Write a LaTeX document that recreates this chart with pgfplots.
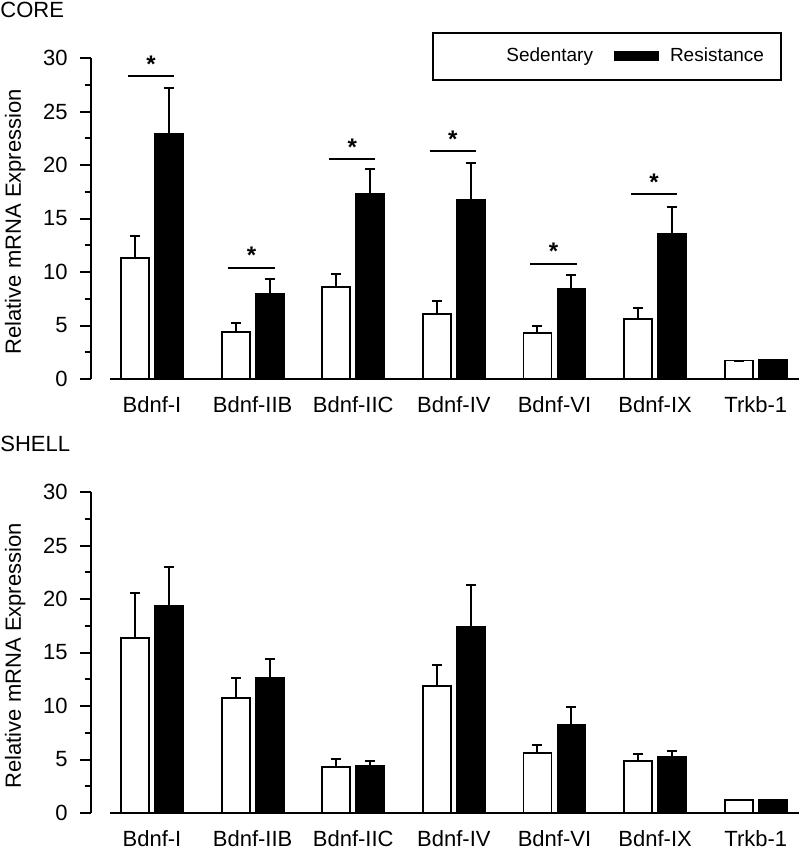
\documentclass[border=0pt]{standalone}
\usepackage{fontspec}
\setmainfont{Liberation Sans}
\usepackage{pgfplots}
\usepackage{pgfplotstable}
\pgfplotsset{compat=1.18}

\pgfplotstableread{
x sed sede res rese
0 11.34 2.00 22.87 4.30
1 4.36 0.85 8.00 1.30
2 8.57 1.20 17.26 2.35
3 6.10 1.20 16.73 3.50
4 4.33 0.65 8.38 1.30
5 5.58 1.06 13.52 2.60
6 1.72 0.00 1.78 0.00
}\coretable

\pgfplotstableread{
x sed sede res rese
0 16.33 4.20 19.35 3.60
1 10.78 1.80 12.65 1.70
2 4.30 0.75 4.42 0.40
3 11.90 1.96 17.38 3.96
4 5.64 0.72 8.19 1.74
5 4.83 0.65 5.20 0.60
6 1.19 0.00 1.25 0.00
}\shelltable

\tikzset{sigstar/.style={anchor=base, inner sep=0pt, yshift=2bp, font=\fontsize{12bp}{14bp}\bfseries}}

\pgfplotsset{
  myaxis/.style={
    scale only axis, width=354bp, height=160.5bp,
    xmin=-0.606, xmax=6.43, ymin=0, ymax=30,
    ybar=3bp, bar width=14bp,
    axis y line=left, axis x line=bottom,
    axis line style={-, line width=1bp},
    x axis line style={draw=none},
    ytick={0,5,...,30}, minor y tick num=1,
    tick align=outside, major tick length=5.5bp, minor tick length=3bp,
    tick style={line width=1bp, black},
    xtick={0,...,6},
    xticklabels={Bdnf-I,Bdnf-IIB,Bdnf-IIC,Bdnf-IV,Bdnf-VI,Bdnf-IX,Trkb-1},
    xtick style={draw=none},
    /pgf/number format/assume math mode=true,
    tick label style={font=\fontsize{11bp}{13bp}\selectfont},
    yticklabel style={inner sep=0pt, xshift=-6bp},
    xticklabel style={inner sep=0pt, yshift=-3bp},
    ylabel={Relative mRNA Expression},
    ylabel style={at={(axis description cs:-0.107,0.49)}, anchor=center, font=\fontsize{11bp}{13bp}\selectfont},
    clip=false,
  },
  sedbar/.style={fill=white, draw=black, line width=0.9bp,
    legend image code/.code={\fill[##1, draw=none] (0bp,-2.5bp) rectangle (22.5bp,2.5bp);},
    error bars/.cd, y dir=plus, y explicit,
    error bar style={line width=1bp, black},
    error mark options={rotate=90, mark size=2.5bp, line width=1bp, black}},
  resbar/.style={fill=black, draw=black, line width=0.9bp,
    legend image code/.code={\fill[##1, draw=none] (0bp,-2.5bp) rectangle (22.5bp,2.5bp);},
    error bars/.cd, y dir=plus, y explicit,
    error bar style={line width=1bp, black},
    error mark options={rotate=90, mark size=2.5bp, line width=1bp, black}},
}

\begin{document}
\begin{tikzpicture}[font=\fontsize{11bp}{13bp}\selectfont]
\useasboundingbox (0bp,0bp) rectangle (400bp,-424bp);
\node[anchor=base west, inner sep=0pt] at (0bp,-8.5bp) {CORE};
\node[anchor=base west, inner sep=0pt] at (0bp,-225.5bp) {SHELL};

\begin{axis}[myaxis, at={(45.5bp,-189.5bp)}, anchor=south west,
  legend columns=2,
  legend style={at={(axis description cs:0.976,1.081)}, anchor=north east,
    draw=black, line width=1bp, inner xsep=8.5bp, inner ysep=7.5bp,
    font=\fontsize{9.5bp}{11bp}\selectfont,
    nodes={inner sep=0pt},
    /tikz/every odd column/.append style={column sep=5.5bp},
    /tikz/every even column/.append style={column sep=10.5bp}},
]
\addplot[sedbar] table[x=x, y=sed, y error=sede] {\coretable};
\addlegendentry{Sedentary}
\addplot[resbar] table[x=x, y=res, y error=rese] {\coretable};
\addlegendentry{Resistance}
\draw[line width=1bp] (axis cs:-0.417,0) -- (axis cs:6.43,0);
\draw[line width=1bp] (axis cs:-0.24,28.3) -- (axis cs:0.22,28.3);
\draw[line width=1bp] (axis cs:0.76,10.4) -- (axis cs:1.22,10.4);
\draw[line width=1bp] (axis cs:1.76,20.56) -- (axis cs:2.22,20.56);
\draw[line width=1bp] (axis cs:2.76,21.3) -- (axis cs:3.22,21.3);
\draw[line width=1bp] (axis cs:3.76,10.75) -- (axis cs:4.22,10.75);
\draw[line width=1bp] (axis cs:4.76,17.26) -- (axis cs:5.22,17.26);
\node[sigstar] at (axis cs:-0.01,28.3) {*};
\node[sigstar] at (axis cs:0.99,10.4) {*};
\node[sigstar] at (axis cs:1.99,20.56) {*};
\node[sigstar] at (axis cs:2.99,21.3) {*};
\node[sigstar] at (axis cs:3.99,10.75) {*};
\node[sigstar] at (axis cs:4.99,17.26) {*};
\end{axis}

\begin{axis}[myaxis, at={(45.5bp,-406.5bp)}, anchor=south west]
\addplot[sedbar] table[x=x, y=sed, y error=sede] {\shelltable};
\addplot[resbar] table[x=x, y=res, y error=rese] {\shelltable};
\draw[line width=1bp] (axis cs:-0.417,0) -- (axis cs:6.43,0);
\end{axis}
\end{tikzpicture}
\end{document}
